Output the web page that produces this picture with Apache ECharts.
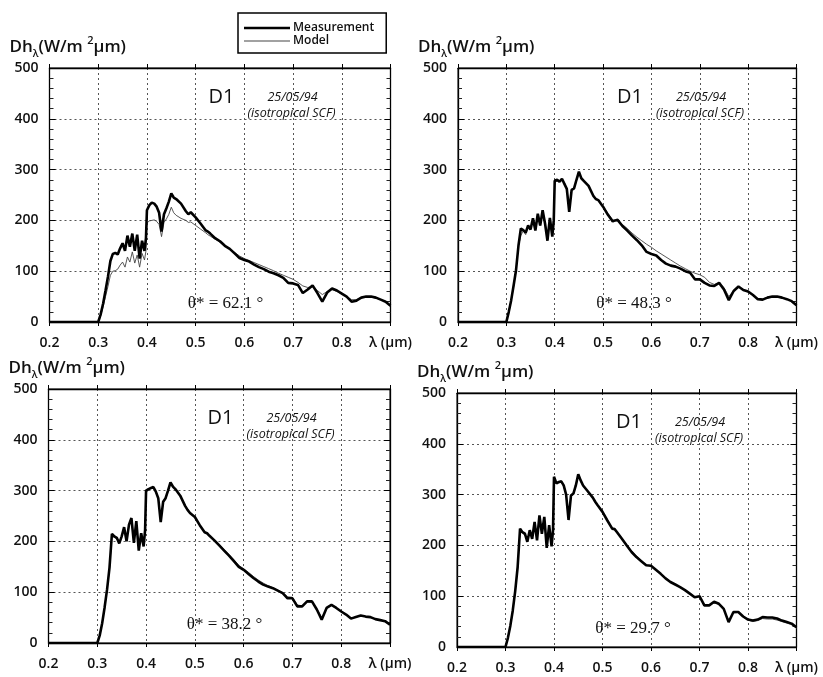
<!DOCTYPE html>
<html>
<head>
<meta charset="utf-8">
<script src="https://cdn.jsdelivr.net/npm/echarts@6/dist/echarts.min.js"></script>
<style>
  html, body { margin: 0; padding: 0; background: #fff; }
  #chart { width: 823px; height: 677px; }
</style>
</head>
<body>
<div id="chart"></div>
<script>
// wavelength grid (µm), shared by every curve
const wavelength = [
  0.20, 0.30, 0.305, 0.31, 0.315, 0.32, 0.325, 0.33, 0.335, 0.34,
  0.345, 0.35, 0.355, 0.36, 0.365, 0.37, 0.375, 0.38, 0.385, 0.39,
  0.395, 0.398, 0.40, 0.405, 0.41, 0.415, 0.42, 0.425, 0.43, 0.435,
  0.44, 0.445, 0.45, 0.455, 0.46, 0.47, 0.48, 0.485, 0.49, 0.50,
  0.51, 0.52, 0.525, 0.53, 0.54, 0.55, 0.56, 0.57, 0.58, 0.59,
  0.60, 0.61, 0.62, 0.63, 0.64, 0.65, 0.66, 0.67, 0.68, 0.69,
  0.70, 0.71, 0.72, 0.73, 0.74, 0.75, 0.76, 0.77, 0.78, 0.79,
  0.80, 0.81, 0.82, 0.83, 0.84, 0.85, 0.86, 0.87, 0.88, 0.89, 0.90
];

const meas1 = [
  0, 0, 15, 36, 62, 89, 120, 134, 136, 133,
  145, 155, 140, 170, 148, 174, 140, 172, 125, 160,
  140, 165, 220, 230, 235, 233, 227, 215, 178, 212,
  224, 237, 253, 245, 242, 233, 218, 212, 216, 206,
  194, 181, 178, 174, 165, 159, 150, 144, 135, 126,
  122, 119, 113, 108, 104, 99, 96, 92, 87, 77,
  76, 73, 57, 64, 72, 57, 40, 58, 66, 62,
  56, 50, 40, 42, 48, 50, 50, 48, 44, 40, 32
];
const model1 = [
  0, 0, 12, 30, 50, 70, 92, 100, 101, 104,
  112, 118, 108, 128, 118, 138, 116, 132, 108, 135,
  122, 140, 195, 199, 200, 201, 198, 192, 168, 196,
  203, 212, 226, 215, 210, 204, 200, 196, 197, 190,
  183, 176, 172, 169, 163, 157, 150, 143, 137, 130,
  125, 121, 117, 113, 109, 105, 101, 96, 92, 88,
  84, 78, 71, 68, 69, 62, 54, 60, 64, 60,
  55, 50, 44, 44, 48, 49, 49, 47, 44, 40, 33
];

const meas2 = [
  0, 0, 20, 43, 72, 102, 150, 184, 181, 176,
  190, 182, 204, 180, 213, 190, 220, 194, 160, 205,
  168, 200, 278, 280, 276, 282, 272, 262, 217, 260,
  263, 280, 296, 283, 278, 268, 248, 242, 240, 227,
  211, 198, 200, 201, 189, 180, 170, 161, 151, 138,
  134, 131, 122, 115, 111, 109, 105, 100, 97, 84,
  84, 77, 72, 71, 77, 64, 43, 61, 70, 63,
  60, 53, 45, 44, 48, 50, 50, 48, 45, 41, 33
];
const model2 = [
  0, 0, 18, 42, 70, 100, 150, 170, 180, 172,
  188, 185, 200, 182, 210, 190, 215, 195, 165, 200,
  175, 195, 275, 278, 277, 280, 275, 262, 222, 258,
  262, 278, 292, 284, 278, 268, 250, 243, 240, 228,
  214, 201, 200, 199, 192, 184, 175, 167, 160, 153,
  147, 140, 134, 128, 122, 116, 110, 105, 100, 96,
  93, 88, 78, 74, 77, 68, 50, 62, 69, 64,
  59, 53, 46, 45, 49, 50, 50, 48, 45, 41, 34
];

const meas3 = [
  0, 0, 15, 39, 70, 105, 148, 215, 210, 207,
  196, 210, 228, 200, 233, 246, 197, 240, 182, 216,
  190, 222, 300, 303, 305, 307, 298, 285, 238, 278,
  285, 300, 316, 308, 303, 290, 270, 262, 256, 248,
  232, 218, 216, 211, 202, 192, 182, 172, 161, 150,
  144, 136, 128, 121, 115, 111, 108, 103, 98, 88,
  88, 72, 72, 82, 82, 66, 46, 69, 75, 69,
  62, 56, 48, 51, 54, 52, 51, 47, 45, 43, 36
];
const model3 = [
  0, 0, 14, 38, 68, 104, 146, 210, 208, 205,
  198, 208, 225, 202, 230, 243, 200, 236, 186, 214,
  194, 218, 297, 301, 304, 305, 297, 284, 242, 276,
  283, 299, 313, 307, 302, 289, 271, 263, 256, 248,
  233, 219, 216, 211, 203, 194, 184, 174, 164, 153,
  146, 139, 131, 124, 118, 113, 109, 104, 99, 91,
  90, 75, 73, 81, 80, 67, 50, 68, 74, 68,
  62, 56, 49, 51, 53, 52, 50, 47, 45, 42, 35
];

const meas4 = [
  0, 0, 18, 42, 72, 110, 157, 233, 226, 223,
  207, 230, 213, 246, 210, 259, 223, 256, 195, 240,
  198, 230, 335, 322, 325, 326, 318, 300, 250, 298,
  302, 318, 340, 328, 318, 306, 294, 286, 279, 266,
  249, 233, 232, 226, 213, 200, 187, 177, 169, 161,
  160, 152, 144, 135, 128, 123, 118, 112, 105, 98,
  100, 82, 82, 89, 85, 75, 49, 69, 69, 60,
  54, 52, 54, 59, 58, 58, 56, 52, 49, 46, 39
];
const model4 = [
  0, 0, 17, 40, 70, 108, 155, 228, 224, 220,
  210, 226, 215, 242, 212, 254, 225, 250, 198, 236,
  200, 226, 330, 324, 323, 325, 316, 300, 254, 296,
  300, 316, 336, 326, 317, 305, 293, 285, 278, 266,
  250, 234, 231, 226, 214, 201, 189, 179, 170, 162,
  159, 152, 144, 136, 129, 123, 118, 112, 106, 99,
  99, 84, 82, 87, 84, 74, 52, 67, 68, 59,
  53, 50, 52, 56, 55, 55, 53, 50, 47, 44, 37
];

const angles = ["62.1", "48.3", "38.2", "29.7"];
const yTicks = [0, 100, 200, 300, 400, 500];
const xTicks = [0.2, 0.3, 0.4, 0.5, 0.6, 0.7, 0.8, 0.9];

const measurements = [meas1, meas2, meas3, meas4];
const models = [model1, model2, model3, model4];

// panel boxes in pixels
const panels = [
  { left: 49.5, top: 68, width: 341, height: 254 },
  { left: 458, top: 68, width: 338.5, height: 254 },
  { left: 48.5, top: 389, width: 341.5, height: 254 },
  { left: 457, top: 393, width: 339.5, height: 254 }
];

const font = "Open Sans";
const ink = "#111";
const dots = { color: "#555", type: [2, 3], width: 1 };

const grids = [], xAxes = [], yAxes = [], series = [], titles = [], texts = [];

panels.forEach((p, i) => {
  grids.push({
    left: p.left, top: p.top, width: p.width, height: p.height,
    show: true, borderColor: "#000", borderWidth: 1
  });

  const xBase = {
    type: "value", gridIndex: i,
    min: xTicks[0], max: xTicks[xTicks.length - 1], interval: 0.1
  };
  xAxes.push({
    ...xBase,
    position: "bottom",
    axisLine: { onZero: false, lineStyle: { color: "#000", width: 1.3 } },
    axisTick: { show: true, length: 4, lineStyle: { color: "#000", width: 1 } },
    axisLabel: {
      color: ink, fontFamily: font, fontWeight: 600, fontSize: 14, margin: 14,
      formatter: (v) => Math.abs(v - 0.9) < 1e-6 ? "λ (μm)" : v.toFixed(1)
    },
    splitLine: { show: true, lineStyle: dots }
  });
  xAxes.push({
    ...xBase,
    position: "top",
    axisLine: { onZero: false, lineStyle: { color: "#000", width: 1.3 } },
    axisTick: { show: true, length: 4, lineStyle: { color: "#000", width: 1 } },
    axisLabel: { show: false },
    splitLine: { show: false }
  });

  const yBase = {
    type: "value", gridIndex: i,
    min: yTicks[0], max: yTicks[yTicks.length - 1], interval: 100
  };
  yAxes.push({
    ...yBase,
    position: "left",
    axisLine: { show: true, onZero: false, lineStyle: { color: "#000", width: 1.3 } },
    axisTick: { show: true, inside: true, length: 6, lineStyle: { color: "#000", width: 1 } },
    minorTick: { show: true, splitNumber: 5, length: 4, lineStyle: { color: "#222", width: 1 } },
    axisLabel: { color: ink, fontFamily: font, fontWeight: 600, fontSize: 14, margin: 11 },
    splitLine: { show: true, lineStyle: dots }
  });
  yAxes.push({
    ...yBase,
    position: "right",
    axisLine: { show: true, onZero: false, lineStyle: { color: "#000", width: 1.3 } },
    axisTick: { show: true, inside: true, length: 6, lineStyle: { color: "#000", width: 1 } },
    minorTick: { show: true, splitNumber: 5, length: 4, lineStyle: { color: "#222", width: 1 } },
    axisLabel: { show: false },
    splitLine: { show: false }
  });

  series.push({
    name: "Model", type: "line", xAxisIndex: 2 * i, yAxisIndex: 2 * i,
    data: wavelength.map((w, k) => [w, models[i][k]]),
    symbol: "none", color: "#444",
    lineStyle: { color: "#444", width: 0.9 }, z: 3
  });
  series.push({
    name: "Measurement", type: "line", xAxisIndex: 2 * i, yAxisIndex: 2 * i,
    data: wavelength.map((w, k) => [w, measurements[i][k]]),
    symbol: "none", color: "#000",
    lineStyle: { color: "#000", width: 2.6 }, z: 4
  });

  // y-axis name above the axis
  titles.push({
    text: "{a|Dh}{s|λ}{a|(W/m }{p|2}{a|μm)}",
    left: p.left - 40, top: p.top - 33, padding: 0,
    textStyle: {
      rich: {
        a: { fontFamily: font, fontWeight: 600, fontSize: 17, color: ink, lineHeight: 24 },
        s: { fontFamily: font, fontWeight: 600, fontSize: 10, color: ink, lineHeight: 12, verticalAlign: "bottom" },
        p: { fontFamily: font, fontWeight: 600, fontSize: 11, color: ink, lineHeight: 12, verticalAlign: "top" }
      }
    }
  });

  texts.push({
    type: "text", x: p.left + 172, y: p.top + 29, z: 10,
    style: { text: "D1", fontFamily: font, fontSize: 20, fontWeight: 500, fill: ink, textAlign: "center", textVerticalAlign: "middle" }
  });
  texts.push({
    type: "text", x: p.left + 243, y: p.top + 29, z: 10,
    style: { text: "25/05/94", fontFamily: font, fontSize: 12.5, fontStyle: "italic", fontWeight: 500, fill: ink, textAlign: "center", textVerticalAlign: "middle" }
  });
  texts.push({
    type: "text", x: p.left + 242, y: p.top + 45, z: 10,
    style: { text: "(isotropical SCF)", fontFamily: font, fontSize: 12.5, fontStyle: "italic", fontWeight: 500, fill: ink, textAlign: "center", textVerticalAlign: "middle" }
  });
  texts.push({
    type: "text", x: p.left + 176, y: p.top + 236, z: 10,
    style: { text: "θ* = " + angles[i] + " °", fontFamily: "Liberation Serif", fontSize: 17, fill: ink, textAlign: "center", textVerticalAlign: "middle" }
  });
});

const chart = echarts.init(document.getElementById("chart"), null, { renderer: "canvas" });
chart.setOption({
  animation: false,
  backgroundColor: "#fff",
  title: titles,
  legend: {
    data: [
      { name: "Measurement", icon: "path://M0,0h46v2.6h-46z" },
      { name: "Model", icon: "path://M0,0h46v1h-46z" }
    ],
    orient: "vertical",
    left: 238, top: 13,
    padding: [9, 12, 6, 6],
    itemGap: 1,
    itemWidth: 46, itemHeight: 13,
    borderColor: "#000", borderWidth: 1.5,
    textStyle: { fontFamily: font, fontWeight: 600, fontSize: 12, color: ink, padding: [0, 0, 0, -2] }
  },
  grid: grids,
  xAxis: xAxes,
  yAxis: yAxes,
  series: series,
  graphic: texts
});
</script>
</body>
</html>
